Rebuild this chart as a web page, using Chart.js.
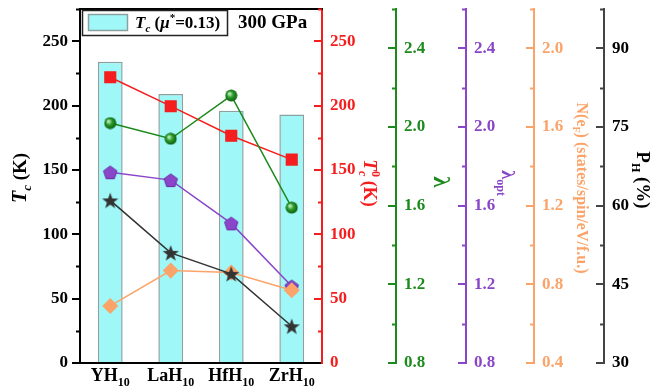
<!DOCTYPE html>
<html lang="en">
  <head>
    <meta charset="UTF-8" />
    <title>Tc of MH10 hydrides at 300 GPa</title>
    <script src="https://cdn.jsdelivr.net/npm/chart.js"></script>
    <style>
      body { margin: 0; background: #fff; }
    </style>
  </head>
  <body>
    <canvas id="chart" width="670" height="392"></canvas>
    <script>
      // values
      const categories = ["YH10", "LaH10", "HfH10", "ZrH10"];
      const tcMu = [234, 209, 196, 193];
      const tcZero = [222, 199.5, 176.5, 158];
      const lambda = [2.02, 1.94, 2.16, 1.59];
      const lambdaOpt = [1.77, 1.73, 1.51, 1.19];
      const nEf = [0.69, 0.87, 0.86, 0.77];
      const pH = [61, 51, 47, 37];

      const tcTicks = [0, 50, 100, 150, 200, 250];
      const lamTicks = [0.8, 1.2, 1.6, 2.0, 2.4];
      const nefTicks = [0.4, 0.8, 1.2, 1.6, 2.0];
      const phTicks = [30, 45, 60, 75, 90];

      const cyan = "#9ff7f7";
      const barEdge = "#8da0a0";
      const red = "#f51e1e";
      const green = "#1d8a1d";
      const purple = "#8a46c8";
      const orange = "#fba46a";
      const dark = "#333333";
      const FAM = '"Liberation Serif", "Times New Roman", serif';
      const B = (s) => `bold ${s}px ${FAM}`;
      const BI = (s) => `italic bold ${s}px ${FAM}`;

      Chart.defaults.font = { family: FAM, size: 17, weight: "bold" };

      function marker(size, draw) {
        const c = document.createElement("canvas");
        c.width = size;
        c.height = size;
        draw(c.getContext("2d"), size / 2);
        return c;
      }
      function polyPath(g, cx, cy, n, rOut, rIn) {
        g.beginPath();
        const k = rIn ? n * 2 : n;
        for (let i = 0; i < k; i++) {
          const r = rIn && i % 2 ? rIn : rOut;
          const a = -Math.PI / 2 + (i * 2 * Math.PI) / k;
          g.lineTo(cx + r * Math.cos(a), cy + r * Math.sin(a));
        }
        g.closePath();
      }
      const sphere = marker(13, (g, r) => {
        const grad = g.createRadialGradient(r - 2, r - 2, 0.5, r, r, r);
        grad.addColorStop(0, "#c6f2c6");
        grad.addColorStop(0.45, "#2a9a2a");
        grad.addColorStop(1, "#0a560a");
        g.fillStyle = grad;
        g.beginPath();
        g.arc(r, r, r - 0.5, 0, Math.PI * 2);
        g.fill();
      });
      const pentagon = marker(16, (g, r) => {
        polyPath(g, r, r + 0.8, 5, 7);
        g.fillStyle = purple;
        g.fill();
        g.strokeStyle = "#6a2aa8";
        g.lineWidth = 1;
        g.stroke();
      });
      const star = marker(18, (g, r) => {
        polyPath(g, r, r + 0.8, 5, 8.5, 3.5);
        g.fillStyle = dark;
        g.fill();
      });

      function richText(ctx, x, y, rot, parts, color) {
        ctx.save();
        ctx.translate(x, y);
        ctx.rotate(rot);
        ctx.fillStyle = color;
        ctx.textBaseline = "alphabetic";
        let w = 0;
        parts.forEach((p) => {
          ctx.font = p.f;
          p.w = ctx.measureText(p.t).width;
          if (p.adv !== false) w += p.w;
        });
        let cx = -w / 2;
        parts.forEach((p) => {
          ctx.font = p.f;
          ctx.fillText(p.t, cx, 6 + (p.dy || 0));
          if (p.adv !== false) cx += p.w;
        });
        ctx.restore();
      }

      const decor = {
        id: "decor",
        afterDraw(chart) {
          const { ctx, chartArea: a, scales } = chart;
          ctx.save();
          // top frame
          ctx.strokeStyle = "#000";
          ctx.lineWidth = 2;
          ctx.beginPath();
          ctx.moveTo(a.left - 1, a.top);
          ctx.lineTo(a.right + 1, a.top);
          ctx.stroke();

          // minor ticks
          const minor = [
            ["yTc", tcTicks, "#000"],
            ["yT0", tcTicks, red],
            ["yLam", lamTicks, green],
            ["yOpt", lamTicks, purple],
            ["yNef", nefTicks, orange],
            ["yPh", phTicks, "#444"],
          ];
          minor.forEach(([id, t, col]) => {
            const s = scales[id];
            const step = t[1] - t[0];
            const x0 = s.position === "left" ? s.right : s.left;
            ctx.strokeStyle = col;
            ctx.lineWidth = 2;
            t.forEach((v) => {
              const y = Math.round(s.getPixelForValue(v + step / 2)) + 0.5;
              ctx.beginPath();
              ctx.moveTo(x0, y);
              ctx.lineTo(x0 - 4, y);
              ctx.stroke();
            });
          });

          // category labels with subscripts
          const xs = scales.x;
          categories.forEach((c, i) => {
            const m = c.match(/^(\D+)(\d+)$/);
            richText(ctx, xs.getPixelForValue(i), 375, 0,
              [{ t: m[1], f: B(18) }, { t: m[2], f: B(12), dy: 5 }], "#000");
          });

          // axis titles
          const up = -Math.PI / 2, down = Math.PI / 2;
          richText(ctx, 20, 178, up, [
            { t: "T", f: BI(20) }, { t: "c", f: BI(13), dy: 5 }, { t: " (K)", f: B(19) },
          ], "#000");
          richText(ctx, 370, 183, down, [
            { t: "T", f: BI(19) }, { t: "0", f: B(12), dy: -8, adv: false },
            { t: "c", f: BI(12), dy: 5 }, { t: " (K)", f: B(18) },
          ], red);
          richText(ctx, 440, 182, down, [{ t: "λ", f: B(23) }], green);
          richText(ctx, 508, 183, down, [
            { t: "λ", f: B(19) }, { t: "opt", f: B(12), dy: 5 },
          ], purple);
          richText(ctx, 583, 188, down, [
            { t: "N(e", f: B(16) }, { t: "F", f: B(10), dy: 4 },
            { t: ") (states/spin/eV/f.u.)", f: B(16) },
          ], orange);
          richText(ctx, 643, 180, down, [
            { t: "P", f: B(19) }, { t: "H", f: B(12), dy: 5 }, { t: " (%)", f: B(19) },
          ], "#000");

          // legend
          ctx.strokeStyle = "#222";
          ctx.lineWidth = 1.5;
          ctx.strokeRect(82.5, 10.5, 145, 25);
          ctx.fillStyle = cyan;
          ctx.fillRect(88, 14, 40, 17);
          ctx.strokeStyle = barEdge;
          ctx.strokeRect(88.5, 14.5, 39, 16);
          ctx.fillStyle = "#000";
          ctx.textBaseline = "alphabetic";
          let x = 135;
          [
            { t: "T", f: BI(17), dy: 0 }, { t: "c", f: BI(11), dy: 4 },
            { t: " (", f: B(17), dy: 0 }, { t: "μ", f: BI(17), dy: 0 },
            { t: "*", f: B(11), dy: -7 }, { t: "=0.13)", f: B(17), dy: 0 },
          ].forEach((p) => {
            ctx.font = p.f;
            ctx.fillText(p.t, x, 28 + p.dy);
            x += ctx.measureText(p.t).width;
          });
          ctx.font = B(19);
          ctx.fillText("300 GPa", 238, 28);
          ctx.restore();
        },
      };

      function yAxis(pos, color, min, max, ticks, width, weight, digits) {
        const left = pos === "left";
        return {
          position: pos,
          min,
          max,
          weight,
          afterBuildTicks: (s) => { s.ticks = ticks.map((v) => ({ value: v })); },
          afterFit: (s) => {
            s.width = width;
            s.paddingTop = 0;
            s.paddingBottom = 0;
          },
          border: { color, width: 2 },
          grid: { drawOnChartArea: false, color, lineWidth: 2, tickLength: left ? 8 : -8 },
          ticks: {
            color: color === "#444" ? "#000" : color,
            padding: left ? 4 : 16,
            callback: (v) => Number(v).toFixed(digits),
          },
        };
      }

      new Chart(document.getElementById("chart"), {
        type: "bar",
        data: {
          labels: categories,
          datasets: [
            {
              type: "bar", label: "Tc (μ*=0.13)", data: tcMu, yAxisID: "yTc",
              backgroundColor: cyan, borderColor: barEdge, borderWidth: 1.5,
              barPercentage: 0.41, categoryPercentage: 1, order: 10,
            },
            {
              type: "line", label: "Tc0", data: tcZero, yAxisID: "yT0",
              borderColor: red, backgroundColor: red, borderWidth: 1.5,
              pointStyle: "rect", pointRadius: 7.5, order: 5,
            },
            {
              type: "line", label: "λ", data: lambda, yAxisID: "yLam",
              borderColor: green, borderWidth: 1.5, pointStyle: sphere, order: 4,
            },
            {
              type: "line", label: "λopt", data: lambdaOpt, yAxisID: "yOpt",
              borderColor: purple, borderWidth: 1.5, pointStyle: pentagon, order: 3,
            },
            {
              type: "line", label: "N(eF)", data: nEf, yAxisID: "yNef",
              borderColor: orange, backgroundColor: orange, borderWidth: 1.5,
              pointStyle: "rectRot", pointRadius: 7, order: 2,
            },
            {
              type: "line", label: "PH", data: pH, yAxisID: "yPh",
              borderColor: dark, borderWidth: 1.5, pointStyle: star, order: 1,
            },
          ],
        },
        options: {
          responsive: false,
          animation: false,
          layout: { padding: { top: 0, bottom: 29 } },
          plugins: { legend: { display: false }, tooltip: { enabled: false } },
          scales: {
            x: {
              grid: { display: false, drawTicks: false },
              ticks: { display: false },
              border: { color: "#000", width: 2 },
              afterFit: (s) => {
                s.height = 0;
                s.paddingLeft = 0;
                s.paddingRight = 0;
              },
            },
            yTc: yAxis("left", "#000", 0, 275, tcTicks, 80, 0, 0),
            yT0: yAxis("right", red, 0, 275, tcTicks, 74, 1, 0),
            yLam: yAxis("right", green, 0.8, 2.6, lamTicks, 70, 2, 1),
            yOpt: yAxis("right", purple, 0.8, 2.6, lamTicks, 68, 3, 1),
            yNef: yAxis("right", orange, 0.4, 2.2, nefTicks, 70, 4, 1),
            yPh: yAxis("right", "#444", 30, 97.5, phTicks, 66, 5, 0),
          },
        },
        plugins: [decor],
      });
    </script>
  </body>
</html>
